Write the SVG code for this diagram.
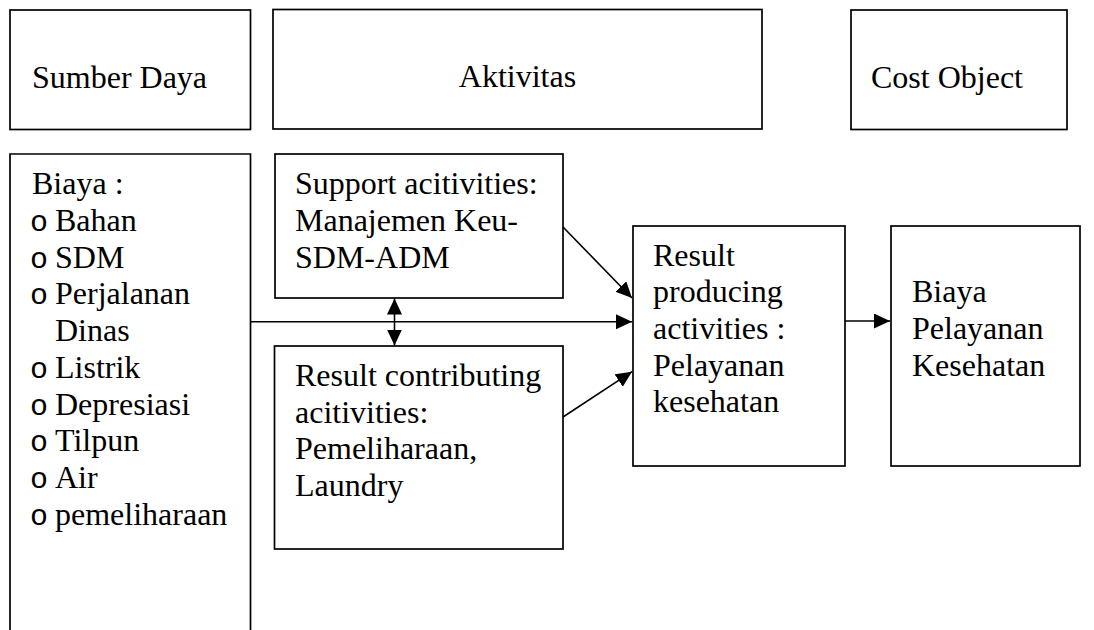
<svg xmlns="http://www.w3.org/2000/svg" width="1094" height="630" viewBox="0 0 1094 630">
<defs>
<style>
.box{fill:#fff;stroke:#000;stroke-width:1.7}
.t{font-family:"Liberation Serif","Times New Roman",serif;font-size:32px;fill:#000}
.b{font-family:"Liberation Mono","Courier New",monospace;font-size:30px;fill:#000}
.c{fill:none;stroke:#000;stroke-width:1.6}
</style>
<marker id="ah" markerUnits="userSpaceOnUse" markerWidth="17" markerHeight="16" refX="16" refY="7.5" orient="auto-start-reverse" viewBox="0 0 17 16">
<path d="M0,0 L16,7.5 L0,15 z" fill="#000"/>
</marker>
</defs>
<rect width="1094" height="630" fill="#fff"/>
<g id="sumber-daya-header">
<rect class="box" x="10" y="10" width="240.5" height="119.5"/>
<text class="t" x="32" y="88">Sumber Daya</text>
</g>
<g id="aktivitas-header">
<rect class="box" x="273" y="9.5" width="489" height="119.5"/>
<text class="t" x="517.5" y="87" text-anchor="middle">Aktivitas</text>
</g>
<g id="cost-object-header">
<rect class="box" x="851" y="10" width="216" height="119.5"/>
<text class="t" x="871" y="88">Cost Object</text>
</g>
<g id="biaya-sumber">
<path class="box" d="M10,640 V154 H250.5 V640"/>
<text class="t" x="32" y="194.3">Biaya :</text>
<g class="b">
<text x="30" y="231">o</text>
<text x="30" y="267.7">o</text>
<text x="30" y="304.4">o</text>
<text x="30" y="377.8">o</text>
<text x="30" y="414.5">o</text>
<text x="30" y="451.2">o</text>
<text x="30" y="487.9">o</text>
<text x="30" y="524.6">o</text>
</g>
<text class="t" x="55" y="231">Bahan</text>
<text class="t" x="55" y="267.7">SDM</text>
<text class="t" x="55" y="304.4">Perjalanan</text>
<text class="t" x="55" y="341.1">Dinas</text>
<text class="t" x="55" y="377.8">Listrik</text>
<text class="t" x="55" y="414.5">Depresiasi</text>
<text class="t" x="55" y="451.2">Tilpun</text>
<text class="t" x="55" y="487.9">Air</text>
<text class="t" x="55" y="524.6">pemeliharaan</text>
</g>
<g id="support-activities">
<rect class="box" x="275" y="154" width="288" height="144"/>
<text class="t" x="295" y="194.3">Support acitivities:</text>
<text class="t" x="295" y="231">Manajemen Keu-</text>
<text class="t" x="295" y="267.7">SDM-ADM</text>
</g>
<g id="result-contributing">
<rect class="box" x="274.5" y="346" width="288.5" height="203"/>
<text class="t" x="295" y="386">Result contributing</text>
<text class="t" x="295" y="422.7">acitivities:</text>
<text class="t" x="295" y="459.4">Pemeliharaan,</text>
<text class="t" x="295" y="496.1">Laundry</text>
</g>
<g id="result-producing">
<rect class="box" x="633" y="226" width="212" height="240"/>
<text class="t" x="653" y="265.5">Result</text>
<text class="t" x="653" y="302.2">producing</text>
<text class="t" x="653" y="338.9">activities :</text>
<text class="t" x="653" y="375.6">Pelayanan</text>
<text class="t" x="653" y="412.3">kesehatan</text>
</g>
<g id="biaya-pelayanan">
<rect class="box" x="891" y="226" width="189" height="240"/>
<text class="t" x="912" y="302.2">Biaya</text>
<text class="t" x="912" y="338.9">Pelayanan</text>
<text class="t" x="912" y="375.6">Kesehatan</text>
</g>
<g id="connectors">
<path class="c" d="M250.5,321.7 H632" marker-end="url(#ah)"/>
<path class="c" d="M563,227 L632,298" marker-end="url(#ah)"/>
<path class="c" d="M563,417 L632,371.7" marker-end="url(#ah)"/>
<path class="c" d="M394.5,298.5 V345.5" marker-start="url(#ah)" marker-end="url(#ah)"/>
<path class="c" d="M845,321 H890" marker-end="url(#ah)"/>
</g>
</svg>
